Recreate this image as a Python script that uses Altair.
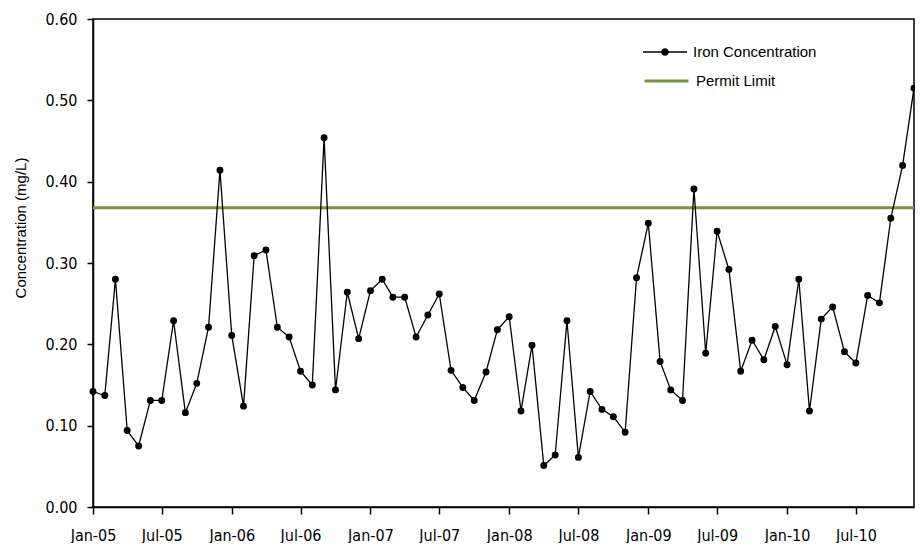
import altair as alt
import pandas as pd

# ---- data ----
months = pd.date_range("2005-01-01", periods=72, freq="MS")
iron_mg_l = [0.142, 0.137, 0.280, 0.094, 0.075, 0.131, 0.131, 0.229, 0.116, 0.152, 0.221, 0.414,
             0.211, 0.124, 0.309, 0.316, 0.221, 0.209, 0.167, 0.150, 0.454, 0.144, 0.264, 0.207,
             0.266, 0.280, 0.258, 0.258, 0.209, 0.236, 0.262, 0.168, 0.147, 0.131, 0.166, 0.218,
             0.234, 0.118, 0.199, 0.051, 0.064, 0.229, 0.061, 0.142, 0.120, 0.111, 0.092, 0.282,
             0.349, 0.179, 0.144, 0.131, 0.391, 0.189, 0.339, 0.292, 0.167, 0.205, 0.181, 0.222,
             0.175, 0.280, 0.118, 0.231, 0.246, 0.191, 0.177, 0.260, 0.251, 0.355, 0.420, 0.515]
permit_limit = [0.368]
series_names = ["Iron Concentration", "Permit Limit"]
y_ticks = [0.0, 0.1, 0.2, 0.3, 0.4, 0.5, 0.6]
x_tick_dates = [(y, m) for y in range(2005, 2011) for m in (1, 7)]

iron_df = pd.DataFrame({"date": months, "value": iron_mg_l, "series": series_names[0]})
limit_df = pd.DataFrame({"value": permit_limit, "series": [series_names[1]]})

GREEN = "#77933C"
TICK_FONT = "DejaVu Sans Condensed, sans-serif"
TEXT_FONT = "Liberation Sans, Arial, sans-serif"

x_enc = alt.X(
    "date:T",
    scale=alt.Scale(domain=[alt.DateTime(year=2005, month=1, date=1),
                            alt.DateTime(year=2010, month=12, date=1)]),
    axis=alt.Axis(
        values=[alt.DateTime(year=y, month=m, date=1) for y, m in x_tick_dates],
        format="%b-%y", title=None, grid=False, tickSize=7, labelPadding=13,
        labelFlush=False, labelOverlap=False,
    ),
)
y_enc = alt.Y(
    "value:Q",
    scale=alt.Scale(domain=[0, 0.6], nice=False),
    axis=alt.Axis(
        values=y_ticks, format=".2f", title="Concentration (mg/L)", grid=False,
        tickSize=6, labelPadding=10, titleX=-73, titleY=208.5, titleAngle=270,
        titleBaseline="middle", titleFont=TEXT_FONT, titleFontSize=15,
        titleFontWeight="normal", titleColor="black",
    ),
)

dot_path = ("M-1,-0.03H-0.17V0.03H-1Z M0.17,-0.03H1V0.03H0.17Z "
            "M-0.175,0A0.175,0.175 0 1,1 0.175,0A0.175,0.175 0 1,1 -0.175,0Z")

limit = alt.Chart(limit_df).mark_rule(strokeWidth=3).encode(
    y=alt.Y("value:Q", scale=alt.Scale(domain=[0, 0.6], nice=False)),
    stroke=alt.Stroke(
        "series:N",
        scale=alt.Scale(domain=[series_names[1]], range=[GREEN]),
        legend=alt.Legend(
            title=None, orient="none", legendX=550, legendY=54, clipHeight=16,
            symbolType="stroke", symbolSize=1936, symbolStrokeWidth=3,
            labelFont=TEXT_FONT, labelFontSize=15, labelColor="black",
            labelOffset=6, padding=0,
        ),
    ),
)

line = alt.Chart(iron_df).mark_line(color="black", strokeWidth=1.3).encode(x=x_enc, y=y_enc)

points = alt.Chart(iron_df).mark_circle(size=48, opacity=1).encode(
    x=alt.X("date:T"),
    y=alt.Y("value:Q"),
    color=alt.Color(
        "series:N",
        scale=alt.Scale(domain=[series_names[0]], range=["black"]),
        legend=alt.Legend(
            title=None, orient="none", legendX=550, legendY=25, clipHeight=16,
            symbolType=dot_path, symbolSize=1936, symbolStrokeWidth=0,
            symbolFillColor="black", symbolOpacity=1,
            labelFont=TEXT_FONT, labelFontSize=15, labelColor="black",
            labelOffset=6, padding=0,
        ),
    ),
)

chart = (
    alt.layer(limit, line, points)
    .resolve_scale(color="independent", stroke="independent")
    .properties(
        width=821, height=488,
        autosize=alt.AutoSizeParams(type="none"),
        padding={"left": 85, "top": 11, "right": 1, "bottom": 36},
        background="white",
    )
    .configure_view(stroke="black", strokeWidth=1.5)
    .configure_axis(
        labelFont=TICK_FONT, labelFontSize=16, labelColor="black",
        domainColor="black", domainWidth=1.5, tickColor="black", tickWidth=1.5,
    )
)

chart.save("out.html", embed_options={"renderer": "svg", "actions": False})
